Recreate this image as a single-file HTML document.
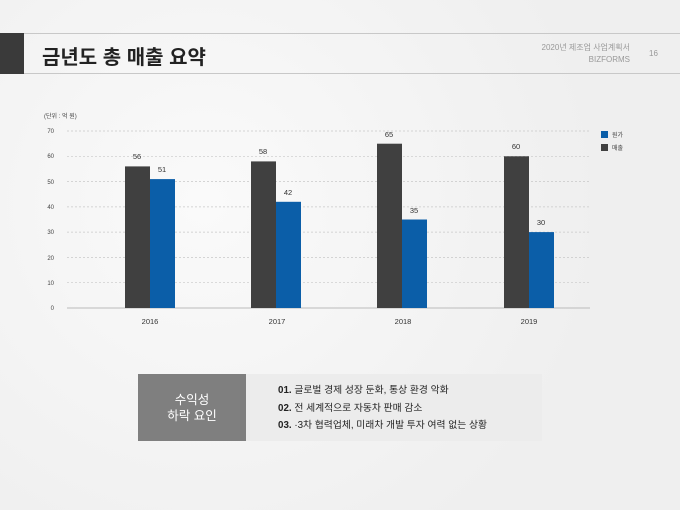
<!DOCTYPE html>
<html><head><meta charset="utf-8"><style>
body{margin:0;width:680px;height:510px;background:#f3f3f3;position:relative;overflow:hidden;font-family:"Liberation Sans","Noto Sans CJK KR",sans-serif}
.a{position:absolute}
</style></head><body>
<div class="a" style="left:0;top:0;width:680px;height:510px;background:radial-gradient(circle at 30% 40%,#fafafa,#efefef 70%)"></div>
<div class="a" style="left:0;top:33px;width:680px;height:1px;background:#c8c8c8"></div>
<div class="a" style="left:0;top:73px;width:680px;height:1px;background:#c8c8c8"></div>
<div class="a" style="left:0;top:33px;width:24px;height:41px;background:#3a3a3a"></div>
<div class="a" style="left:42px;top:41px;font-size:20px;font-weight:bold;color:#222">금년도 총 매출 요약</div>
<div class="a" style="left:520px;top:42px;width:110px;text-align:right;font-size:8px;color:#999;line-height:12px">2020년 제조업 사업계획서<br>BIZFORMS</div>
<div class="a" style="left:649px;top:49px;font-size:8px;color:#999">16</div>
<svg class="a" style="left:0;top:0" width="680" height="510" font-family="Liberation Sans, Noto Sans CJK KR, sans-serif">
<text x="44" y="118" font-size="6" fill="#444">(단위 : 억 원)</text>
<g stroke="#c8c8c8" stroke-dasharray="2,2" stroke-width="0.7">
<line x1="67" x2="590" y1="131" y2="131"/><line x1="67" x2="590" y1="156.3" y2="156.3"/><line x1="67" x2="590" y1="181.6" y2="181.6"/><line x1="67" x2="590" y1="206.9" y2="206.9"/><line x1="67" x2="590" y1="232.1" y2="232.1"/><line x1="67" x2="590" y1="257.4" y2="257.4"/><line x1="67" x2="590" y1="282.7" y2="282.7"/></g>
<line x1="67" x2="590" y1="308" y2="308" stroke="#bbb"/>
<g font-size="6" fill="#444" text-anchor="end"><text x="54" y="133">70</text><text x="54" y="158">60</text><text x="54" y="184">50</text><text x="54" y="209">40</text><text x="54" y="234">30</text><text x="54" y="260">20</text><text x="54" y="285">10</text><text x="54" y="310">0</text></g>
<g fill="#404040"><rect x="125" y="166.4" width="25" height="141.6"/><rect x="251" y="161.4" width="25" height="146.6"/><rect x="377" y="143.7" width="25" height="164.3"/><rect x="504" y="156.3" width="25" height="151.7"/></g>
<g fill="#0b5ea8"><rect x="150" y="179.1" width="25" height="128.9"/><rect x="276" y="201.8" width="25" height="106.2"/><rect x="402" y="219.5" width="25" height="88.5"/><rect x="529" y="232.1" width="25" height="75.9"/></g>
<g font-size="7.5" fill="#333" text-anchor="middle"><text x="137" y="159">56</text><text x="162" y="172">51</text><text x="263" y="154">58</text><text x="288" y="195">42</text><text x="389" y="137">65</text><text x="414" y="213">35</text><text x="516" y="149">60</text><text x="541" y="225">30</text>
<text x="150" y="324">2016</text><text x="277" y="324">2017</text><text x="403" y="324">2018</text><text x="529" y="324">2019</text></g>
<rect x="601" y="131" width="7" height="7" fill="#0b5ea8"/><rect x="601" y="144" width="7" height="7" fill="#404040"/>
<text x="612" y="137" font-size="6" fill="#444">원가</text><text x="612" y="150" font-size="6" fill="#444">매출</text>
</svg>
<div class="a" style="left:138px;top:374px;width:108px;height:67px;background:#7f7f7f;color:#fff;font-size:12.5px;text-align:center;line-height:16px;display:flex;align-items:center;justify-content:center">수익성<br>하락 요인</div>
<div class="a" style="left:246px;top:374px;width:296px;height:67px;background:#ececec"></div>
<div class="a" style="left:278px;top:382px;font-size:9.8px;color:#222;line-height:17.5px"><b>01.</b> 글로벌 경제 성장 둔화, 통상 환경 악화<br><b>02.</b> 전 세계적으로 자동차 판매 감소<br><b>03.</b> ·3차 협력업체, 미래차 개발 투자 여력 없는 상황</div>
</body></html>
